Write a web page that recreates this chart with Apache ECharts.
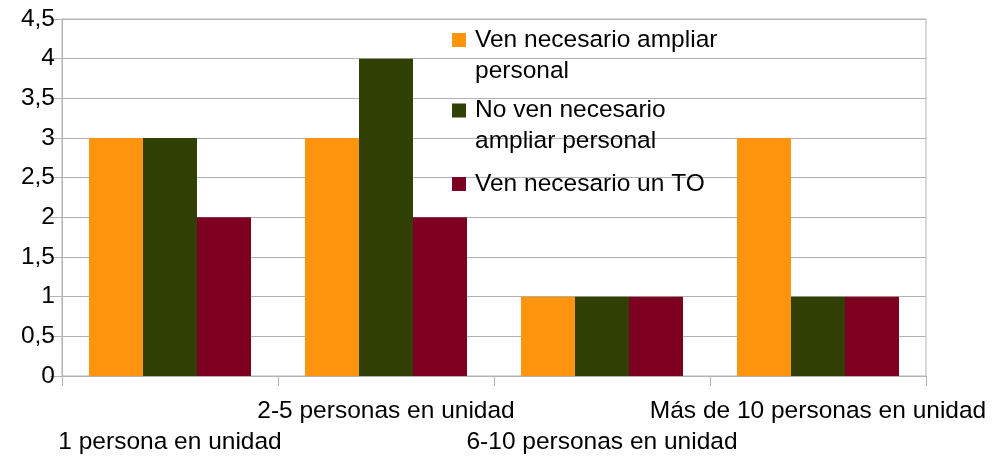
<!DOCTYPE html>
<html>
<head>
<meta charset="utf-8">
<script src="https://cdn.jsdelivr.net/npm/echarts@6/dist/echarts.min.js"></script>
<style>
  html, body { margin: 0; padding: 0; background: #fff; }
  #chart { width: 997px; height: 459px; }
</style>
</head>
<body>
<div id="chart"></div>
<script>
var categories = ['1 persona en unidad', '2-5 personas en unidad', '6-10 personas en unidad', 'Más de 10 personas en unidad'];
var seriesNames = ['Ven necesario ampliar personal', 'No ven necesario ampliar personal', 'Ven necesario un TO'];
var legendLabels = ['Ven necesario ampliar\npersonal', 'No ven necesario\nampliar personal', 'Ven necesario un TO'];
var ampliar = [3, 3, 1, 3];
var noAmpliar = [3, 4, 1, 1];
var unTO = [2, 2, 1, 1];
var yTicks = [0, 0.5, 1, 1.5, 2, 2.5, 3, 3.5, 4, 4.5];

var colors = ['#ff950e', '#314004', '#7e0021'];
var values = [ampliar, noAmpliar, unTO];
var gridColor = '#b3b3b3';
var font = 'Liberation Sans, Arial, sans-serif';
var fs = 24.5;

var myChart = echarts.init(document.getElementById('chart'), null, { renderer: 'canvas' });

// one legend per entry; an empty first line keeps the square next to the first text line
var legendTops = [-6.5, 64, 168.5];
var legends = seriesNames.map(function (name, i) {
  var multi = legendLabels[i].indexOf('\n') >= 0;
  return {
    data: [name],
    left: 452,
    top: legendTops[i],
    padding: 0,
    icon: 'rect',
    itemWidth: 14,
    itemHeight: 14,
    formatter: function () { return multi ? '\n' + legendLabels[i] : legendLabels[i]; },
    textStyle: {
      fontFamily: font,
      fontSize: fs,
      lineHeight: 31,
      color: '#000',
      padding: [0, 0, 0, 4]
    }
  };
});

var option = {
  animation: false,
  backgroundColor: '#fff',
  color: colors,
  legend: legends,
  grid: {
    left: 62,
    right: 71,
    top: 19,
    bottom: 83,
    show: true,
    borderColor: gridColor,
    borderWidth: 1,
    backgroundColor: 'transparent'
  },
  xAxis: {
    type: 'category',
    data: categories,
    boundaryGap: true,
    axisLine: { lineStyle: { color: gridColor } },
    axisTick: { show: true, length: 10, lineStyle: { color: gridColor } },
    axisLabel: {
      interval: 0,
      margin: 20,
      fontFamily: font,
      fontSize: fs,
      lineHeight: 31,
      color: '#000',
      formatter: function (v, idx) { return idx % 2 === 0 ? '\n' + v : v; }
    },
    splitLine: { show: false }
  },
  yAxis: {
    type: 'value',
    min: yTicks[0],
    max: yTicks[yTicks.length - 1],
    interval: 0.5,
    axisLine: { show: true, lineStyle: { color: gridColor } },
    axisTick: { show: true, length: 12, lineStyle: { color: gridColor } },
    axisLabel: {
      margin: 7,
      fontFamily: font,
      fontSize: fs,
      color: '#000',
      formatter: function (v) { return String(v).replace('.', ','); }
    },
    splitLine: { show: true, lineStyle: { color: gridColor, width: 1 } }
  },
  series: seriesNames.map(function (name, i) {
    return {
      name: name,
      type: 'bar',
      data: values[i],
      barGap: '0%',
      barCategoryGap: '25%',
      itemStyle: { color: colors[i] }
    };
  })
};

myChart.setOption(option);
</script>
</body>
</html>
